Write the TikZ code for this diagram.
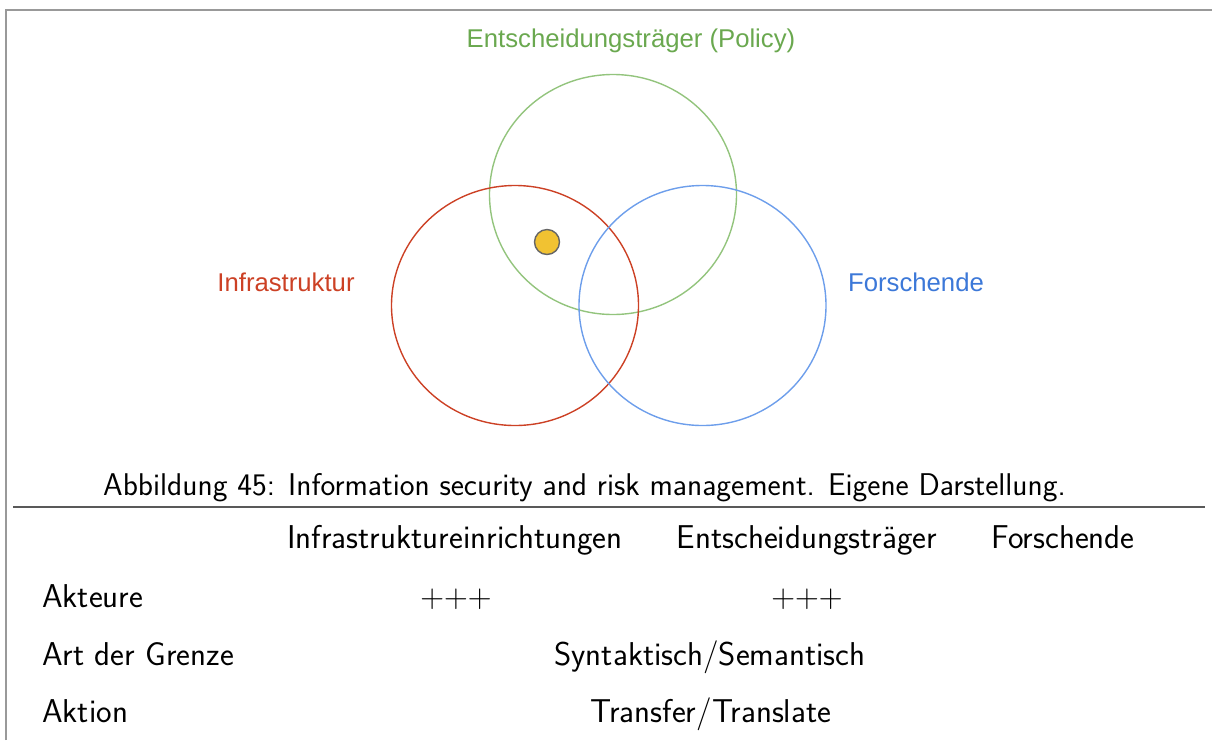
\documentclass[tikz,border=0pt]{standalone}
\usepackage{fontspec}
\usetikzlibrary{shapes.geometric}
\newfontfamily\labelfont{Liberation Sans}
\definecolor{frameGray}{HTML}{999999}
\definecolor{cGreen}{HTML}{93C47D}
\definecolor{cRed}{HTML}{CC4125}
\definecolor{cBlue}{HTML}{6D9EEB}
\definecolor{tGreen}{HTML}{6AA84F}
\definecolor{tRed}{HTML}{CC4125}
\definecolor{tBlue}{HTML}{3C78D8}
\definecolor{dotFill}{HTML}{F1C232}
\definecolor{dotLine}{HTML}{666666}
\begin{document}
\begin{tikzpicture}[x=1pt,y=-1pt,
  venn/.style={ellipse,draw,line width=1.4pt,minimum width=247pt,minimum height=240pt,inner sep=0pt},
  vlabel/.style={font=\labelfont\fontsize{25.7}{30}\selectfont,anchor=base,inner sep=0pt},
  captext/.style={font=\sffamily\fontsize{31.4}{36}\selectfont,anchor=base,inner sep=0pt},
  tabtext/.style={font=\sffamily\fontsize{33}{38}\selectfont,anchor=base,inner sep=0pt},
  rule/.style={draw=frameGray,line width=1.5pt}]
\useasboundingbox (0,0) rectangle (1212,740);
% frame
\coordinate (ftl) at (6,10);
\coordinate (ftr) at (1212,10);
\coordinate (fbl) at (6,740);
\draw[rule] (fbl) -- (ftl) -- (ftr);
% circles
\node[venn,draw=cGreen] (green) at (613,194.5) {};
\node[venn,draw=cRed] (red) at (515,305.5) {};
\node[venn,draw=cBlue] (blue) at (702.5,305.5) {};
\node[circle,fill=dotFill,draw=dotLine,line width=1.4pt,minimum size=25pt,inner sep=0pt] (dot) at (547,242) {};
% labels
\node[vlabel,text=tGreen] (lgreen) at (631,47) {Entscheidungsträger (Policy)};
\node[vlabel,text=tRed] (lred) at (286,291) {Infrastruktur};
\node[vlabel,text=tBlue] (lblue) at (916,291) {Forschende};
% caption
\node[captext] (cap) at (584.5,495) {Abbildung 45: Information security and risk management. Eigene Darstellung.};
\coordinate (rl) at (13,507);
\coordinate (rr) at (1205,507);
\draw[draw=black!65,line width=1.5pt] (rl) -- (rr);
% table
\node[tabtext] (h1) at (455,548) {Infrastruktureinrichtungen};
\node[tabtext] (h2) at (807,548) {Entscheidungsträger};
\node[tabtext] (h3) at (1063,548) {Forschende};
\node[tabtext,anchor=base west] (r1) at (42,607) {Akteure};
\node[tabtext] (r1a) at (456,607) {\rmfamily +++};
\node[tabtext] (r1b) at (807,607) {\rmfamily +++};
\node[tabtext,anchor=base west] (r2) at (42,665) {Art der Grenze};
\node[tabtext] (r2a) at (710,665) {Syntaktisch/Semantisch};
\node[tabtext,anchor=base west] (r3) at (42,722) {Aktion};
\node[tabtext] (r3a) at (711,722) {Transfer/Translate};
\end{tikzpicture}
\end{document}
